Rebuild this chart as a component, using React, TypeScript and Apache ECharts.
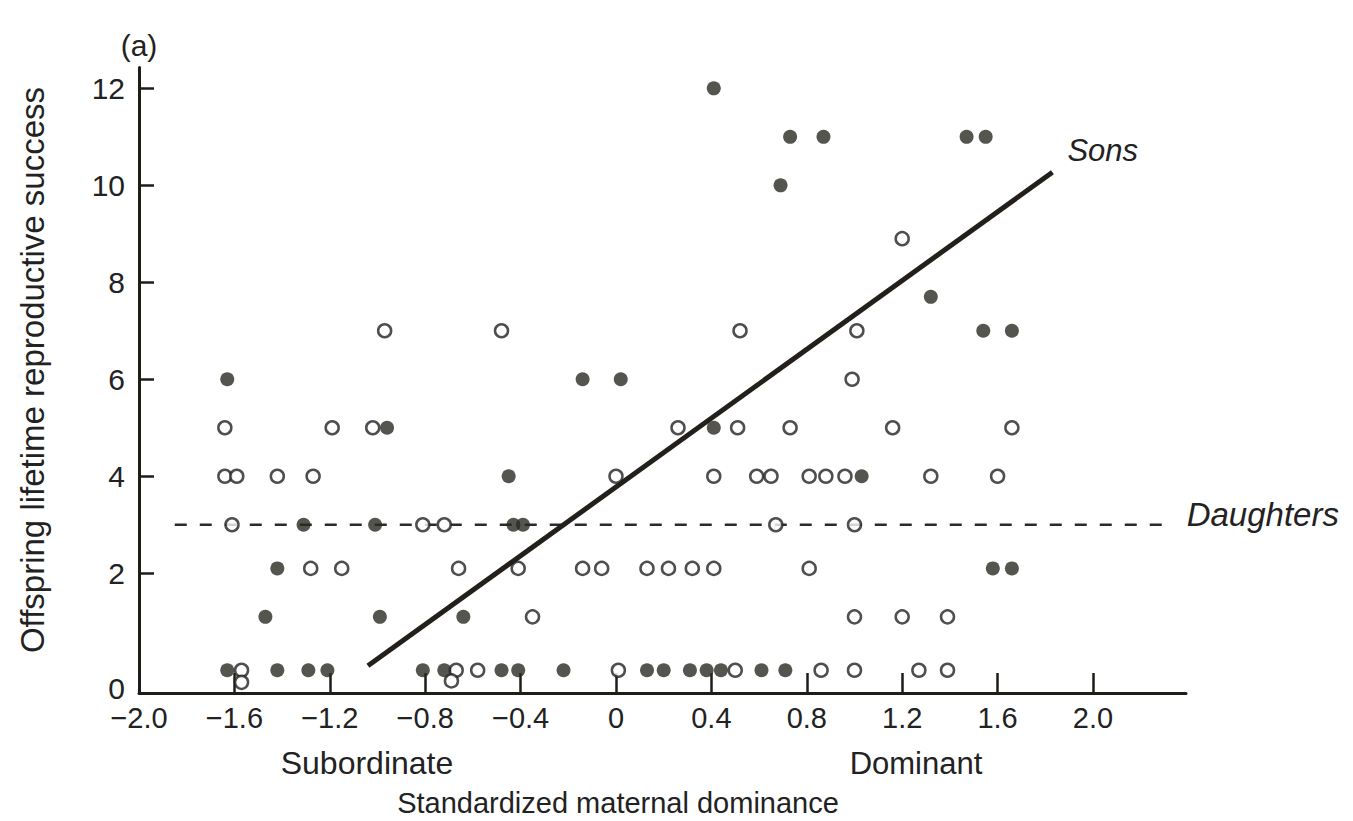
import React, { useEffect, useRef } from 'react';
import * as echarts from 'echarts';

// Axis ticks / labels
const X_TICKS = [-2.0, -1.6, -1.2, -0.8, -0.4, 0, 0.4, 0.8, 1.2, 1.6, 2.0];
const Y_TICKS = [2, 4, 6, 8, 10, 12];
const Y_LABELS = [0, 2, 4, 6, 8, 10, 12];

// Sons (filled dots)
const sonsX = [0.41, 0.73, 0.87, 0.69, 1.47, 1.55, 1.32, 1.54, 1.66, 0.02, -1.63, -0.14, -0.96, -0.45,
  -1.31, -1.01, -0.43, -0.39, -1.42, 0.41, 1.03, 1.58, 1.66, -1.47, -0.99, -0.64,
  -1.63, -1.42, -1.29, -1.21, -0.81, -0.72, -0.48, -0.41, -0.22, 0.13, 0.2, 0.31, 0.38, 0.44, 0.61, 0.71];
const sonsY = [12, 11, 11, 10, 11, 11, 7.7, 7, 7, 6, 6, 6, 5, 4,
  3, 3, 3, 3, 2.1, 5, 4, 2.1, 2.1, 1.1, 1.1, 1.1,
  0, 0, 0, 0, 0, 0, 0, 0, 0, 0, 0, 0, 0, 0, 0, 0];

// Daughters (open circles)
const daughtersX = [1.2, 0.52, 1.01, 0.99, -0.97, -0.48, -1.64, -1.19, -1.02, -1.64, -1.59, -1.42, -1.27, 0.0,
  -1.61, -0.81, -0.72, -1.28, -1.15, -0.66, -0.41, -0.14, -0.06, 0.26, 0.51, 0.73, 1.16, 1.66,
  0.41, 0.59, 0.65, 0.81, 0.88, 0.96, 1.32, 1.6, 0.67, 1.0, 0.13, 0.22, 0.32, 0.41, 0.81,
  1.0, 1.2, 1.39, -0.35, -1.57, -1.57, -0.67, -0.69, -0.58, 0.01, 0.5, 0.86, 1.0, 1.27, 1.39];
const daughtersY = [8.9, 7, 7, 6, 7, 7, 5, 5, 5, 4, 4, 4, 4, 4,
  3, 3, 3, 2.1, 2.1, 2.1, 2.1, 2.1, 2.1, 5, 5, 5, 5, 5,
  4, 4, 4, 4, 4, 4, 4, 4, 3, 3, 2.1, 2.1, 2.1, 2.1, 2.1,
  1.1, 1.1, 1.1, 1.1, 0, -0.25, 0, -0.22, 0, 0, 0, 0, 0, 0, 0];

// Fitted lines
const sonsFitX = [-1.04, 1.83];
const sonsFitY = [0.09, 10.27];
const daughtersMeanX = [-1.85, 2.33];
const daughtersMeanY = [3, 3];

const FONT = "'Liberation Sans', Arial, Helvetica, sans-serif";
const INK = '#1f1d18';

const zip = (xs: number[], ys: number[]) => xs.map((x, i) => [x, ys[i]]);

export default function App() {
  const ref = useRef<HTMLDivElement>(null);
  useEffect(() => {
    const chart = echarts.init(ref.current!, null, { renderer: 'svg' });
    const fmtX = (v: number) => {
      if (Math.abs(v) < 1e-9) return '0';
      return (v < 0 ? '\u2212' : '') + Math.abs(v).toFixed(1);
    };
    const txt = (text: string, x: number, y: number, size: number, extra: any = {}) => ({
      type: 'text', x, y, ...extra,
      style: { text, font: `${size}px ${FONT}`, fill: '#222', textAlign: 'center', textVerticalAlign: 'middle', align: 'center', verticalAlign: 'middle' },
    });
    const option: any = {
      animation: false,
      backgroundColor: '#ffffff',
      grid: { left: 139, right: 167, top: 67.5, bottom: 128, outerBoundsMode: 'none', containLabel: false },
      xAxis: {
        type: 'value', min: -2.0, max: 2.39, position: 'bottom',
        axisLine: { show: true, onZero: false, lineStyle: { color: INK, width: 3 } },
        axisTick: { show: true, inside: true, length: 20, customValues: X_TICKS, lineStyle: { color: INK, width: 2.5 } },
        axisLabel: { customValues: X_TICKS, formatter: fmtX, margin: 10, fontSize: 29, color: '#222', fontFamily: FONT },
        splitLine: { show: false },
      },
      yAxis: {
        type: 'value', min: -0.47, max: 12.43,
        axisLine: { show: true, onZero: false, lineStyle: { color: INK, width: 3 } },
        axisTick: { show: true, inside: true, length: 15, customValues: Y_TICKS, lineStyle: { color: INK, width: 2.5 } },
        axisLabel: {
          customValues: Y_LABELS, margin: 14, fontSize: 30, color: '#222', fontFamily: FONT,
          formatter: (v: number) => (v === 0 ? '{z|0}' : String(v)),
          rich: { z: { fontSize: 30, color: '#222', fontFamily: FONT, padding: [36, 0, 0, 0] } },
        },
        splitLine: { show: false },
      },
      series: [
        {
          type: 'line', name: 'Daughters mean', data: zip(daughtersMeanX, daughtersMeanY), symbol: 'none', z: 2,
          lineStyle: { color: '#2a2a2a', width: 2.5, type: [12, 13] },
          endLabel: { show: true, formatter: 'Daughters', fontStyle: 'italic', fontSize: 33, color: '#222', fontFamily: FONT, offset: [10, -10], distance: 5 },
        },
        {
          type: 'line', name: 'Sons fit', data: zip(sonsFitX, sonsFitY), symbol: 'none', z: 3,
          lineStyle: { color: '#231f1a', width: 5 },
          endLabel: { show: true, formatter: 'Sons', fontStyle: 'italic', fontSize: 31, color: '#222', fontFamily: FONT, offset: [10, -22], distance: 5 },
        },
        {
          type: 'scatter', name: 'Daughters', data: zip(daughtersX, daughtersY), symbol: 'circle', symbolSize: 13, z: 4,
          itemStyle: { color: '#ffffff', borderColor: '#222', borderWidth: 2.5 },
        },
        {
          type: 'scatter', name: 'Sons', data: zip(sonsX, sonsY), symbol: 'circle', symbolSize: 14, z: 5,
          itemStyle: { color: '#2b2a24' },
        },
      ],
      graphic: [
        txt('(a)', 139, 45, 30),
        txt('Offspring lifetime reproductive success', 32, 370, 33, { rotation: Math.PI / 2 }),
        txt('Subordinate', 367, 763, 32),
        txt('Dominant', 916, 763, 31),
        txt('Standardized maternal dominance', 618, 803, 29),
      ],
    };
    chart.setOption(option);
    return () => chart.dispose();
  }, []);
  return <div ref={ref} style={{ position: 'fixed', left: 0, top: 0, width: 1353, height: 821, background: '#fff' }} />;
}
